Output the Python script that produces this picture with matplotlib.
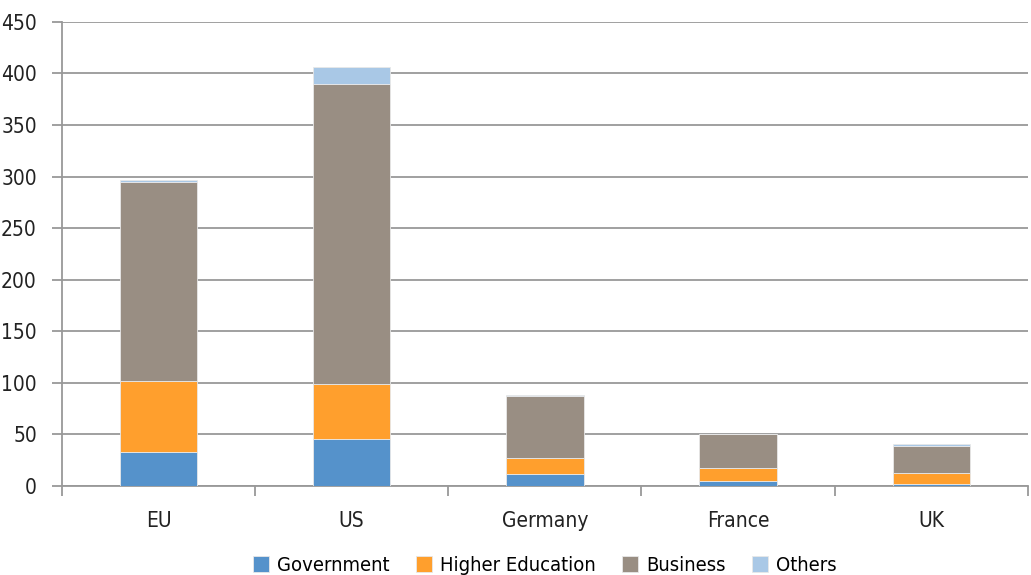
import matplotlib
matplotlib.use('Agg')
import matplotlib.pyplot as plt
import numpy as np

plt.rcParams['font.family'] = ['DejaVu Sans']
plt.rcParams['font.stretch'] = 'condensed'

countries = ['EU', 'US', 'Germany', 'France', 'UK']
government = [33, 45.5, 12, 5, 2]
higher_education = [69, 53.5, 15, 12.5, 10.5]
business = [193, 291, 60.5, 32.5, 26.5]
others = [1.5, 16.5, 0.3, 0.5, 1.7]

series = [
    ('Government', government, '#5592CB'),
    ('Higher Education', higher_education, '#FF9F2D'),
    ('Business', business, '#998E83'),
    ('Others', others, '#A9C8E6'),
]

fig = plt.figure(figsize=(10.31, 5.75), dpi=100)
ax = fig.add_axes([0.060, 0.155, 0.937, 0.807])

x = np.arange(len(countries))
bottom = np.zeros(len(countries))
for name, vals, col in series:
    ax.bar(x, vals, 0.4, bottom=bottom, color=col, label=name,
           edgecolor='#e8e8e8', linewidth=0.6, zorder=3)
    bottom += np.array(vals)

ax.set_xlim(-0.5, len(countries) - 0.5)
ax.set_ylim(0, 450)
ax.set_yticks(np.arange(0, 451, 50))
ax.yaxis.grid(True, color='#999999', linewidth=1.3, zorder=0)
ax.set_xticks(x)
ax.set_xticklabels(countries)
ax.set_xticks(np.arange(-0.5, len(countries)), minor=True)
ax.tick_params(axis='x', which='major', length=0, pad=18, labelsize=15, colors='#222222')
ax.tick_params(axis='x', which='minor', length=7, width=1.3, color='#999999')
ax.tick_params(axis='y', length=7, width=1.3, color='#999999', labelsize=15, labelcolor='#222222', pad=11)

for s in ['top', 'right']:
    ax.spines[s].set_visible(False)
for s in ['left', 'bottom']:
    ax.spines[s].set_color('#999999')
    ax.spines[s].set_linewidth(1.3)

ax.legend(loc='upper center', bbox_to_anchor=(0.5, -0.125), ncol=4, frameon=False,
          fontsize=14.5, handlelength=0.8, handleheight=0.8, handletextpad=0.4,
          columnspacing=1.3, borderaxespad=0.2)

fig.savefig('out.png', dpi=100)
